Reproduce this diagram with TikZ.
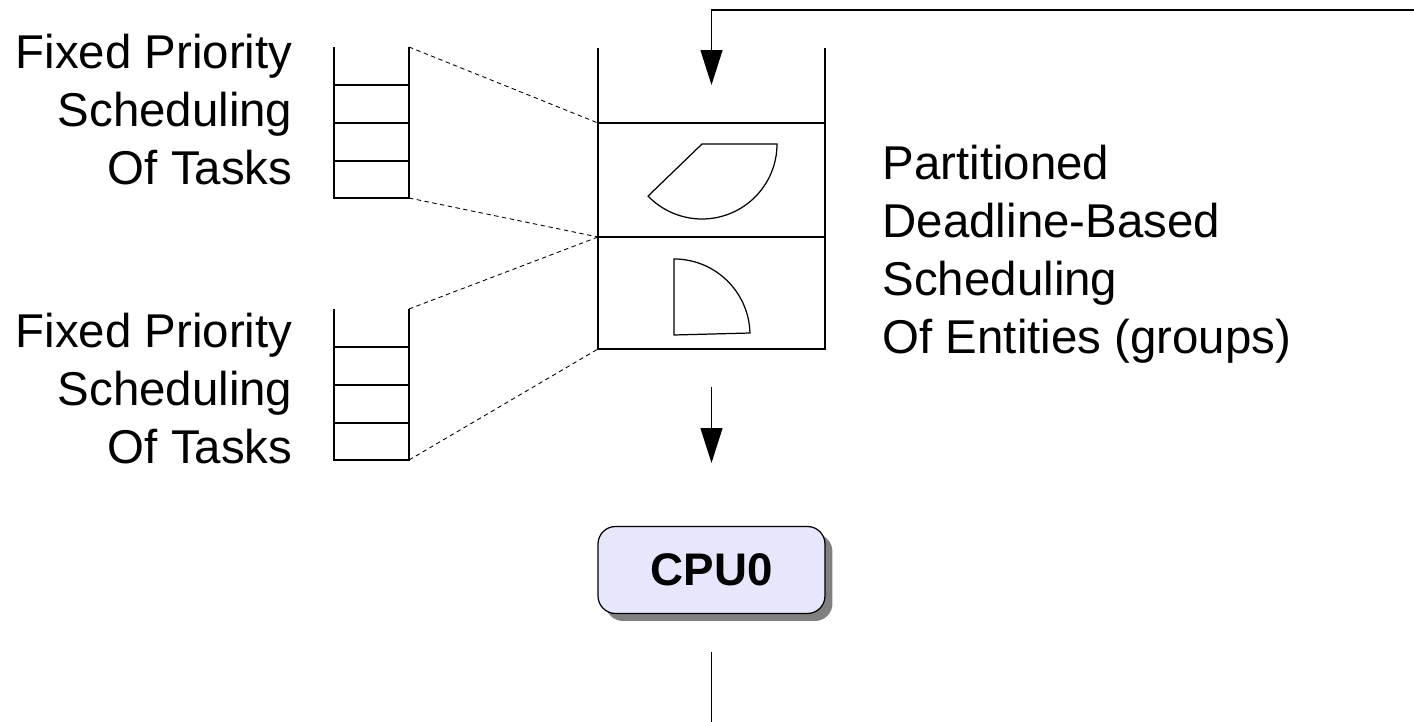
\documentclass[tikz,border=0pt]{standalone}
\usepackage{fontspec}
\setmainfont{Liberation Sans}
\usetikzlibrary{calc, positioning}
\usetikzlibrary{arrows.meta}
\usetikzlibrary{shadows}

\begin{document}
\begin{tikzpicture}[x=0.02cm, y=-0.02cm,
  line width=0.7pt,
  lbl/.style={font=\fontsize{27}{33}\selectfont, inner sep=0pt},
  link/.style={dashed, dash pattern=on 2.5pt off 2pt, line width=0.5pt},
  flow/.style={-{Triangle[length=0.7cm, width=0.44cm]}},
  cpubox/.style={draw, rounded corners=0.35cm, fill={rgb,255:red,230;green,230;blue,252},
    minimum width=4.54cm, minimum height=1.74cm,
    font=\fontsize{26}{30}\selectfont\bfseries,
    drop shadow={shadow xshift=0.15cm, shadow yshift=-0.15cm, fill=gray, opacity=1}}]
\useasboundingbox (0,0) rectangle (1414,722);
\def\ql{598}
\def\qr{825}
\def\qc{711.5}
\def\sl{334}
\def\sr{409}

% queue of groups, open at the top
\draw (\ql,48) -- (\ql,349) -- (\qr,349) -- (\qr,48);
\draw (\ql,123) -- (\qr,123);
\draw (\ql,237) -- (\qr,237);
\coordinate (gA) at (\ql,123);
\coordinate (gB) at (\ql,237);
\coordinate (gC) at (\ql,349);

% budgets of the two groups
\draw (702,144) -- (777,144) arc[start angle=0, end angle=136, radius=75] -- cycle;
\draw (674,335) -- (674,259) arc[start angle=-90, end angle=-1.5, radius=76] -- cycle;

% two task queues
\foreach \tq in {47, 309} {
  \draw (\sl,\tq) -- (\sl,\tq+151) -- (\sr,\tq+151) -- (\sr,\tq);
  \foreach \k in {1,2,3}
    \draw (\sl,\tq+\k*38) -- (\sr,\tq+\k*38);
}
\coordinate (atop) at (\sr,47);
\coordinate (abot) at (\sr,198);
\coordinate (btop) at (\sr,309);
\coordinate (bbot) at (\sr,460);
\draw[link] (atop) -- (gA);
\draw[link] (abot) -- (gB);
\draw[link] (btop) -- (gB);
\draw[link] (bbot) -- (gC);

\node[lbl, align=right, anchor=north east] (fpa) at (293,34) {Fixed Priority\\Scheduling\\Of Tasks};
\node[lbl, align=right, anchor=north east] (fpb) at (293,313) {Fixed Priority\\Scheduling\\Of Tasks};
\node[lbl, align=left, anchor=north west] (edf) at (882,145) {Partitioned\\Deadline-Based\\Scheduling\\Of Entities (groups)};

% cpu and the flow through it
\node[cpubox] (cpu) at (\qc,570) {CPU0};
\coordinate (fb) at (1414,10);
\coordinate (qin) at (\qc,85);
\coordinate (qout) at (\qc,387);
\coordinate (cin) at (\qc,463);
\coordinate (cout) at (\qc,652);
\coordinate (end) at (\qc,722);
\draw[flow] (fb) -| (qin);
\draw[flow] (qout) -- (cin);
\draw (cout) -- (end);
\end{tikzpicture}
\end{document}
